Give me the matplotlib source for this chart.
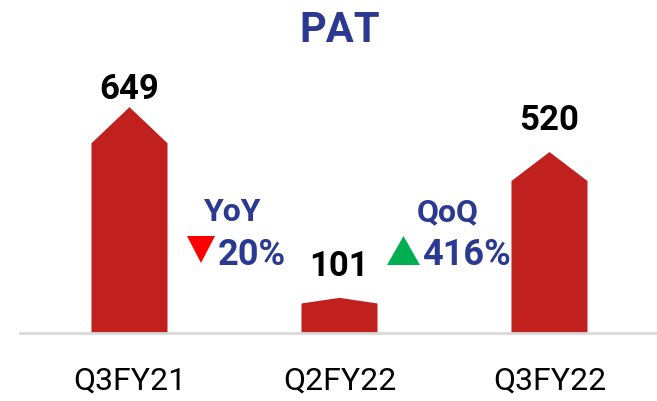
import matplotlib.pyplot as plt
from matplotlib.patches import Polygon

categories = ['Q3FY21', 'Q2FY22', 'Q3FY22']
pat = [649, 101, 520]
yoy_label = '20%'
qoq_label = '416%'

red = '#C0211F'
blue = '#2B3990'
W, H = 657, 401

fig = plt.figure(figsize=(W / 100, H / 100), dpi=100)
ax = fig.add_axes([20 / W, 68 / H, 637 / W, 333 / H])
ax.set_xlim(-0.5214, -0.5214 + 637 / 210)
ax.set_ylim(0, 333 / 0.348)

bw = 0.362
for i, v in enumerate(pat):
    sh = v * 0.84
    pts = [(i - bw / 2, 0), (i - bw / 2, sh), (i, v), (i + bw / 2, sh), (i + bw / 2, 0)]
    ax.add_patch(Polygon(pts, closed=True, facecolor=red, edgecolor='none'))
    off = 90 if i != 0 else 50
    ax.text(i, v + off, str(v), ha='center', va='center', fontsize=25,
            fontweight='bold', family='Roboto', color='black')

for s in ['top', 'right', 'left']:
    ax.spines[s].set_visible(False)
ax.spines['bottom'].set_color('#D9D9D9')
ax.spines['bottom'].set_linewidth(2)
ax.set_yticks([])
ax.set_xticks(range(len(categories)))
ax.set_xticklabels(categories, fontsize=23, family=['Liberation Sans Narrow', 'Roboto'],
                   color='black')
ax.tick_params(axis='x', length=0, pad=24)


def fx(x):
    return x / W


def fy(y):
    return 1 - y / H


fig.text(fx(340), fy(30), 'PAT', ha='center', va='center', fontsize=30,
         fontweight='bold', color=blue, family='Roboto')

fig.text(fx(233), fy(212), 'YoY', ha='center', va='center', fontsize=23,
         fontweight='bold', color=blue, family='Roboto')
fig.text(fx(218), fy(255), yoy_label, ha='left', va='center', fontsize=26,
         fontweight='bold', color=blue, family='Roboto')
fig.add_artist(Polygon([(fx(187), fy(236)), (fx(215), fy(236)), (fx(201), fy(263))],
                       closed=True, facecolor='#FF0000', edgecolor='none',
                       transform=fig.transFigure))

fig.text(fx(448), fy(212), 'QoQ', ha='center', va='center', fontsize=23,
         fontweight='bold', color=blue, family='Roboto')
fig.text(fx(422), fy(255), qoq_label, ha='left', va='center', fontsize=26,
         fontweight='bold', color=blue, family='Roboto')
fig.add_artist(Polygon([(fx(387), fy(265)), (fx(420), fy(265)), (fx(403.5), fy(236))],
                       closed=True, facecolor='#00B050', edgecolor='none',
                       transform=fig.transFigure))

fig.savefig('out.png', dpi=100)
